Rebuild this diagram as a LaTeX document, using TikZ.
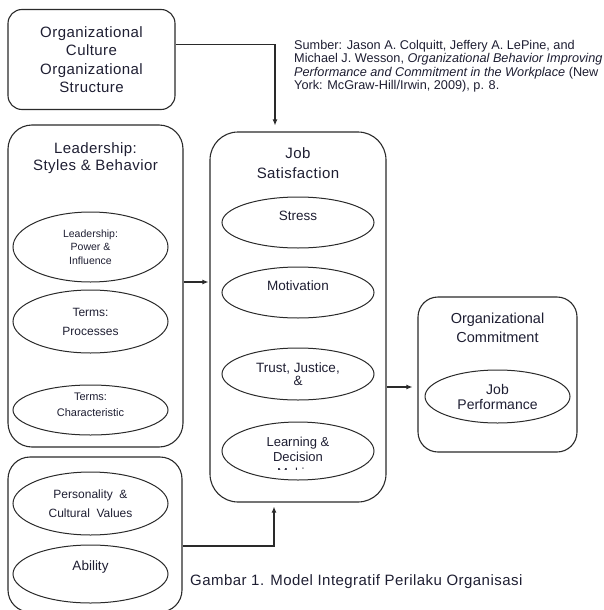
\documentclass[tikz,border=0pt]{standalone}
\usepackage{fontspec}
\setmainfont{Liberation Sans}
\newfontfamily\spacedfont[LetterSpace=3]{Liberation Sans}
\usetikzlibrary{shapes.geometric,arrows.meta}
\definecolor{ink}{HTML}{1E1E32}
\definecolor{edge}{HTML}{2A2A2A}

\begin{document}
\begin{tikzpicture}[x=1pt, y=-1pt,
    box/.style = {draw=edge, rounded corners=#1, line width=1.1pt},
    box/.default = 15pt,
    oval/.style = {draw=edge, ellipse, line width=1pt, inner sep=0pt},
    txt/.style = {align=center, inner sep=0pt, text=ink},
    head/.style = {txt, font=\spacedfont\fontsize{15}{17}\selectfont},
    >={Latex[length=6pt,width=5pt]}]
    \useasboundingbox (0,0) rectangle (604,610);

    \node[box=14pt, minimum width=167pt, minimum height=100pt, txt,
          font=\spacedfont\fontsize{15}{18.3}\selectfont] (culture) at (91.5,59.5)
          {Organizational\\Culture\\Organizational\\Structure};
    \node[anchor=north west, align=left, inner sep=0pt, text=ink,
          font=\fontsize{12.7}{13.4}\selectfont] (source) at (294,40)
          {Sumber: Jason A. Colquitt, Jeffery A. LePine, and\\
           Michael J. Wesson, \textit{Organizational Behavior Improving}\\
           \textit{Performance and Commitment in the Workplace} (New\\
           York: McGraw-Hill/Irwin, 2009), p. 8.};

    \node[box=24pt, minimum width=175pt, minimum height=322pt] (lead) at (95.5,286) {};
    \node[head] (leadhead) at (95.5,158.5) {Leadership:\\Styles \& Behavior};
    \node[oval, txt, minimum width=155pt, minimum height=70pt,
          font=\fontsize{10.5}{13.5}\selectfont] (power) at (90.5,247)
          {Leadership:\\Power \&\\Influence};
    \node[oval, txt, minimum width=155pt, minimum height=63pt,
          font=\fontsize{12}{19}\selectfont] (process) at (90.5,321.5)
          {Terms:\\Processes};
    \node[oval, minimum width=155pt, minimum height=50pt] (charac) at (90.5,410) {};
    \node[txt, font=\fontsize{11}{16}\selectfont] (charactext) at (90.5,405)
          {Terms:\\Characteristic};

    \node[box=22pt, minimum width=174pt, minimum height=155pt] (pers) at (95,534.5) {};
    \node[oval, txt, minimum width=155pt, minimum height=63pt,
          font=\fontsize{12}{19}\selectfont] (person) at (90.5,503.5)
          {Personality \ \&\\Cultural \ Values};
    \node[oval, minimum width=155pt, minimum height=58pt] (ability) at (90.5,574) {};
    \node[txt, font=\fontsize{13.5}{16}\selectfont] (abilitytext) at (90.5,567) {Ability};

    \node[box=28pt, minimum width=176pt, minimum height=370pt] (jobsat) at (298,317) {};
    \node[head, font=\spacedfont\fontsize{15}{20}\selectfont] (jobhead) at (298,163)
          {Job\\Satisfaction};
    \node[oval, minimum width=152pt, minimum height=51pt] (stress) at (298,222.5) {};
    \node[txt, font=\fontsize{13.5}{16}\selectfont] (stresstext) at (298,216) {Stress};
    \node[oval, minimum width=152pt, minimum height=51pt] (motiv) at (298,292.5) {};
    \node[txt, font=\fontsize{13.5}{16}\selectfont] (motivtext) at (298,286) {Motivation};
    \node[oval, txt, minimum width=152pt, minimum height=52pt,
          font=\fontsize{13.5}{13}\selectfont] (trust) at (298,374)
          {Trust, Justice,\\\&};
    \node[oval, minimum width=152pt, minimum height=58pt] (learn) at (298,451) {};
    \node[txt, font=\fontsize{13}{15}\selectfont] (learntext) at (298,449.5)
          {Learning \&\\Decision};
    \begin{scope}
        \clip (222,440) rectangle (374,469);
        \node[txt, font=\fontsize{13}{15}\selectfont] (making) at (298,474) {Making};
    \end{scope}

    \node[box=20pt, minimum width=159pt, minimum height=155pt] (commit) at (497.5,374.5) {};
    \node[txt, font=\fontsize{14.5}{19}\selectfont] (commithead) at (497.5,327.5)
          {Organizational\\Commitment};
    \node[oval, txt, minimum width=145pt, minimum height=53pt,
          font=\fontsize{14}{15}\selectfont] (perf) at (497.5,396.5)
          {Job\\Performance};

    \node[txt, anchor=west, font=\spacedfont\fontsize{15}{18}\selectfont] (caption) at (190,582)
          {Gambar 1. Model Integratif Perilaku Organisasi};

    \draw[->, draw=edge, line width=1.1pt, shorten >=6pt] (culture.10) -| ([xshift=-23pt]jobsat.north);
    \draw[->, draw=edge, line width=1.1pt, shorten >=1pt] ([yshift=4pt]lead.east) -- ([yshift=4pt]lead.east -| jobsat.west);
    \draw[->, draw=edge, line width=1.1pt, shorten >=5pt] ([yshift=-12.5pt]commit.west -| jobsat.east) -- ([yshift=-12.5pt]commit.west);
    \draw[->, draw=edge, line width=1.1pt, shorten >=4pt] ([yshift=-11.5pt]pers.east) -| ([xshift=-24pt]jobsat.south);
\end{tikzpicture}
\end{document}
